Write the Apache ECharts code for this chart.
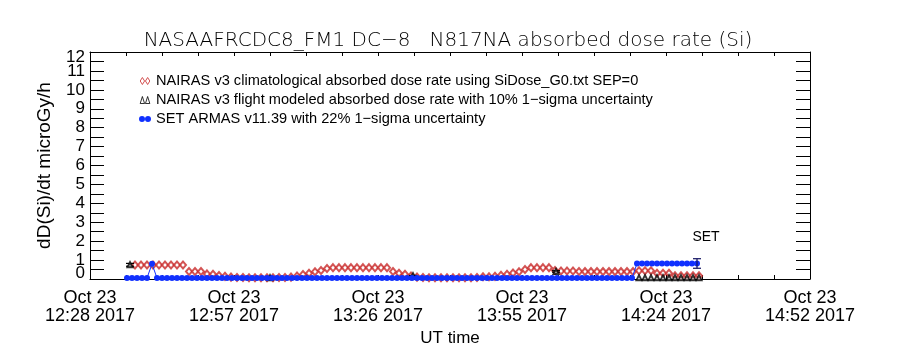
<!DOCTYPE html>
<html><head><meta charset="utf-8">
<script src="https://cdn.jsdelivr.net/npm/echarts@6/dist/echarts.min.js"></script>
<style>html,body{margin:0;padding:0;background:#fff}#c{width:900px;height:350px}</style>
</head><body><div id="c"></div>
<script>
// ---- data (times in seconds after 12:28:00 UT, Oct 23 2017) ----
const xTickDates = ['Oct 23','Oct 23','Oct 23','Oct 23','Oct 23','Oct 23'];
const xTickTimes = ['12:28 2017','12:57 2017','13:26 2017','13:55 2017','14:24 2017','14:52 2017'];
const yInnerLabels = [1,2,3,4,5,6,7,8,9,10,11];
const yEndLabels = [0,12];

const climStart = 540, climStep = 72;   // NAIRAS climatological sample cadence
const climValues = [
 0.74,0.74,0.74,0.74,0.74,0.74,0.74,0.74,0.74,0.40,
 0.40,0.40,0.27,0.25,0.18,0.14,0.10,0.08,0.08,0.07,
 0.07,0.07,0.07,0.07,0.08,0.08,0.10,0.16,0.24,0.30,
 0.38,0.45,0.55,0.60,0.60,0.60,0.60,0.60,0.60,0.60,
 0.60,0.60,0.60,0.40,0.30,0.25,0.16,0.10,0.08,0.07,
 0.07,0.07,0.07,0.07,0.07,0.07,0.07,0.08,0.12,0.12,
 0.14,0.20,0.25,0.32,0.38,0.50,0.60,0.60,0.60,0.60,
 0.45,0.42,0.42,0.42,0.40,0.39,0.39,0.39,0.39,0.39,
 0.39,0.39,0.39,0.39,0.44,0.44,0.44,0.30,0.30,0.30,
 0.17,0.17,0.17,0.17,0.17
];

const flightTimes  = [480, 2160, 3876, 5592, 6588, 6660, 6732, 6804, 6876, 6948, 7020, 7092, 7164, 7236, 7308];
const flightValues = [0.75, 0.07, 0.17, 0.40, 0.07, 0.07, 0.07, 0.07, 0.07, 0.07, 0.07, 0.07, 0.07, 0.07, 0.07];
const flightErrIdx = [0, 1, 2, 3];
const flightSigma = 0.10;

const armasStart = 444, armasStep = 60;
const armasValues = [
 0.05,0.05,0.05,0.05,0.05,0.80,0.05,0.05,0.05,0.05,
 0.05,0.05,0.05,0.05,0.05,0.05,0.05,0.05,0.05,0.05,
 0.05,0.05,0.05,0.05,0.05,0.05,0.05,0.05,0.05,0.05,
 0.05,0.05,0.05,0.05,0.05,0.05,0.05,0.05,0.05,0.05,
 0.05,0.05,0.05,0.05,0.05,0.05,0.05,0.05,0.05,0.05,
 0.05,0.05,0.05,0.05,0.05,0.05,0.05,0.05,0.05,0.05,
 0.05,0.05,0.05,0.05,0.05,0.05,0.05,0.05,0.05,0.05,
 0.05,0.05,0.05,0.05,0.05,0.05,0.05,0.05,0.05,0.05,
 0.05,0.05,0.05,0.05,0.05,0.05,0.05,0.05,0.05,0.05,
 0.05,0.05,0.05,0.05,0.05,0.05,0.05,0.05,0.05,0.05,
 0.05,0.05,0.82,0.82,0.82,0.82,0.82,0.82,0.82,0.82,
 0.82,0.82,0.82,0.82,0.82
];
const armasSigma = 0.22;

const seriesNames = [
 'NAIRAS v3 climatological absorbed dose rate using SiDose_G0.txt SEP=0',
 'NAIRAS v3 flight modeled absorbed dose rate with 10% 1\u2212sigma uncertainty',
 'SET ARMAS v11.39 with 22% 1\u2212sigma uncertainty'
];
const titleText = 'NASAAFRCDC8_FM1 DC\u22128   N817NA absorbed dose rate (Si)';

// ---- build ----
const RED = '#c82828', BLACK = '#000000', BLUE = '#1030ff';
const FONT = 'Liberation Sans';
const climData = climValues.map((v,i)=>[climStart + i*climStep, v]);
const flightData = flightValues.map((v,i)=>[flightTimes[i], v]);
const armasData = armasValues.map((v,i)=>[armasStart + i*armasStep, v]);
const lastArmas = armasData.length - 1;
armasData[lastArmas] = {value: armasData[lastArmas], label:{show:true, formatter:'SET', position:'top', offset:[9,-11], color:'#000', fontSize:14, fontFamily:FONT}};
const flightErr = flightErrIdx.map(i=>[flightTimes[i], flightValues[i]*(1-flightSigma), flightValues[i]*(1+flightSigma)]);
const lastV = armasValues[armasValues.length-1];
const armasErr = [[armasStart + lastArmas*armasStep, lastV*(1-armasSigma*1.4), lastV*(1+armasSigma*1.4)]];

function errRender(color){
  return function(params, api){
    const x = api.value(0), lo = api.value(1), hi = api.value(2);
    const a = api.coord([x, lo]), b = api.coord([x, hi]);
    const w = 4, st = {stroke: color, lineWidth: 1.2};
    return {type:'group', children:[
      {type:'line', shape:{x1:a[0],y1:a[1],x2:b[0],y2:b[1]}, style:st},
      {type:'line', shape:{x1:a[0]-w,y1:a[1],x2:a[0]+w,y2:a[1]}, style:st},
      {type:'line', shape:{x1:b[0]-w,y1:b[1],x2:b[0]+w,y2:b[1]}, style:st}
    ]};
  };
}

const GL = 90, GR = 90, GT = 52, GB = 71;
const plotW = 900 - GL - GR, plotH = 350 - GT - GB;
const xMax = 8640, xInt = 1728;
const LS = {color:'#000', width:1};
// tick-only axes, placed on the opposite edge so that their ticks point into the plot
function xTickAxis(pos){
  return {type:'value', min:0, max:xMax, interval:xInt, position:pos, offset:-plotH,
    axisLine:{show:false, onZero:false}, axisLabel:{show:false}, splitLine:{show:false},
    axisTick:{show:true, length:4, lineStyle:LS},
    minorTick:{show:true, splitNumber:4, length:4, lineStyle:LS}};
}
function yTickAxis(pos){
  return {type:'value', min:0, max:12, interval:1, position:pos, offset:-plotW,
    axisLine:{show:false, onZero:false}, axisLabel:{show:false}, splitLine:{show:false},
    axisTick:{show:true, length:14, lineStyle:LS},
    minorTick:{show:true, splitNumber:2, length:14, lineStyle:LS}};
}
const labelStyle = {color:'#000', fontFamily:FONT, fontSize:17};
const chart = echarts.init(document.getElementById('c'), null, {renderer:'canvas'});
chart.setOption({
  animation:false,
  backgroundColor:'#fff',
  title:{text:titleText, left:443, textAlign:'center', top:26,
    textStyle:{fontFamily:'DejaVu Sans', fontSize:20, fontWeight:200, color:'#000'}},
  grid:{left:GL, right:GR, top:GT, bottom:GB, containLabel:false, outerBoundsMode:'none'},
  legend:{
    orient:'vertical', left:134, top:68, itemGap:3, itemWidth:12, itemHeight:7,
    textStyle:{fontFamily:FONT, fontSize:14.6, color:'#000', lineHeight:16},
    data:[
      {name:seriesNames[0], icon:'path://M0,4L2.5,0L5,4L2.5,8Z M6,4L8.5,0L11,4L8.5,8Z', itemStyle:{color:'#fff', borderColor:RED, borderWidth:1}},
      {name:seriesNames[1], icon:'path://M0,8L2.5,0L5,8Z M6,8L8.5,0L11,8Z', itemStyle:{color:'#fff', borderColor:BLACK, borderWidth:1}},
      {name:seriesNames[2], icon:'path://M0,4a3,3 0 1,0 6,0a3,3 0 1,0 -6,0Z M6,4a3,3 0 1,0 6,0a3,3 0 1,0 -6,0Z', itemStyle:{color:BLUE, borderWidth:0}}
    ]
  },
  xAxis:[{
    type:'value', min:0, max:xMax, interval:xInt, position:'bottom',
    name:'UT time', nameLocation:'middle', nameGap:41,
    nameTextStyle:{fontFamily:FONT, fontSize:17, color:'#000'},
    axisLine:{show:true, onZero:false, lineStyle:LS},
    axisTick:{show:false}, splitLine:{show:false},
    axisLabel:{show:true, margin:10, color:'#000', fontFamily:FONT, fontSize:18, lineHeight:18,
      formatter:(v)=>{const i=Math.round(v/xInt); return xTickDates[i]+'\n'+xTickTimes[i];}}
  },{
    type:'value', min:0, max:xMax, interval:xInt, position:'top',
    axisLine:{show:true, onZero:false, lineStyle:LS},
    axisTick:{show:false}, splitLine:{show:false}, axisLabel:{show:false}
  }, xTickAxis('top'), xTickAxis('bottom')],
  yAxis:[{
    type:'value', min:0, max:12, interval:1, position:'left',
    name:'dD(Si)/dt microGy/h', nameLocation:'middle', nameGap:36, nameRotate:90,
    nameTextStyle:{fontFamily:FONT, fontSize:19, color:'#000'},
    axisLine:{show:true, onZero:false, lineStyle:LS},
    axisTick:{show:false}, splitLine:{show:false},
    axisLabel:Object.assign({show:true, margin:5, customValues:yInnerLabels}, labelStyle)
  },{
    type:'value', min:0, max:12, interval:1, position:'right',
    axisLine:{show:true, onZero:false, lineStyle:LS},
    axisTick:{show:false}, splitLine:{show:false}, axisLabel:{show:false}
  }, yTickAxis('right'), yTickAxis('left'), {
    // end labels (0 and 12) are drawn pulled slightly inward, as in the original plot
    type:'value', min:-0.316, max:12.277, position:'left',
    axisLine:{show:false, onZero:false}, axisTick:{show:false}, splitLine:{show:false},
    axisLabel:Object.assign({show:true, margin:5, customValues:yEndLabels, showMinLabel:true, showMaxLabel:true}, labelStyle)
  }],
  series:[
    {name:seriesNames[0], type:'scatter', data:climData, symbol:'emptyDiamond', symbolSize:[6,7],
      itemStyle:{color:RED, borderColor:RED, borderWidth:0.9}, z:2},
    {name:seriesNames[1], type:'scatter', data:flightData, symbol:'emptyTriangle', symbolSize:5,
      itemStyle:{color:BLACK, borderColor:BLACK, borderWidth:1}, z:3},
    {type:'custom', data:flightErr, renderItem:errRender(BLACK), z:3, silent:true},
    {name:seriesNames[2], type:'line', data:armasData, symbol:'circle', symbolSize:6, showAllSymbol:true,
      itemStyle:{color:BLUE}, lineStyle:{color:BLUE, width:1}, z:4},
    {type:'custom', data:armasErr, renderItem:errRender('#101060'), z:5, silent:true}
  ]
});
</script>
</body></html>
